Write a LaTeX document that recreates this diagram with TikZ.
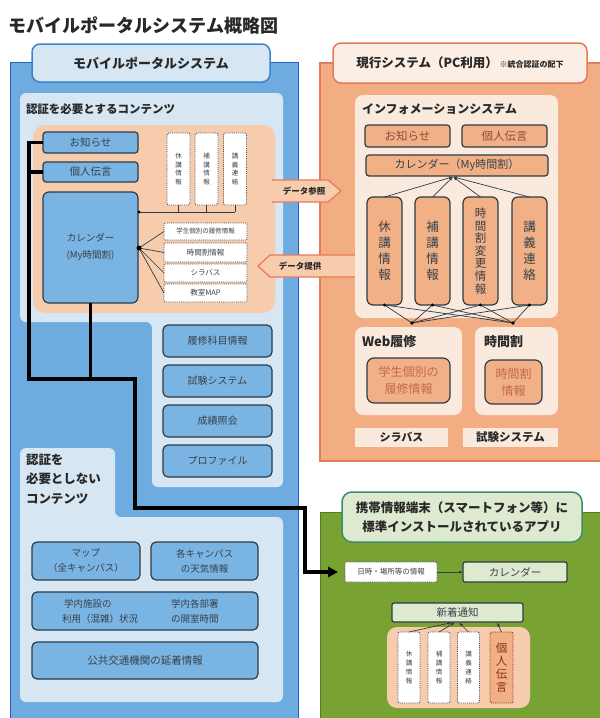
\documentclass[tikz,border=0pt]{standalone}
\usepackage{fontspec}
\setmainfont{Noto Sans CJK JP}
\usetikzlibrary{arrows.meta}
\definecolor{blueMain}{RGB}{110,172,224}
\definecolor{blueBox}{RGB}{122,180,226}
\definecolor{blueLight}{RGB}{214,230,242}
\definecolor{blueEdge}{RGB}{40,90,200}
\definecolor{blueTabEdge}{RGB}{60,130,205}
\definecolor{orMain}{RGB}{242,174,130}
\definecolor{orEdge}{RGB}{232,122,92}
\definecolor{orLight}{RGB}{250,234,222}
\definecolor{orTab}{RGB}{251,238,229}
\definecolor{peach}{RGB}{247,204,172}
\definecolor{orBox}{RGB}{241,176,134}
\definecolor{grMain}{RGB}{120,162,50}
\definecolor{grEdge}{RGB}{80,125,40}
\definecolor{grLight}{RGB}{221,234,207}
\definecolor{grTabEdge}{RGB}{60,140,110}
\definecolor{bline}{RGB}{45,60,70}
\definecolor{dline}{RGB}{70,80,95}
\definecolor{txt}{RGB}{55,65,75}
\definecolor{ttl}{RGB}{40,40,40}
\definecolor{browntxt}{RGB}{140,80,60}
\definecolor{redtxt}{RGB}{195,105,75}
\definecolor{darkred}{RGB}{140,45,30}
\newcommand\fsz[2]{\fontsize{#1}{#2}\selectfont}
\begin{document}
\begin{tikzpicture}[x=1pt,y=-1pt,
  every node/.style={inner sep=0pt, outer sep=0pt, text=txt},
  sz/.style 2 args={minimum width=#1pt, minimum height=#2pt},
  bx/.style={rounded corners=3pt, line width=1.2pt, draw=bline, align=center},
  bluebox/.style={bx, fill=blueBox},
  orbox/.style={bx, fill=orBox},
  grbox/.style={bx, fill=grLight},
  wdash/.style={rounded corners=2pt, draw=dline, line width=0.9pt, densely dotted, fill=white, align=center},
  thickln/.style={line width=3.4pt, black, line join=miter},
  thinln/.style={line width=0.7pt, draw=bline},
  tip/.style={-{Latex[length=4pt,width=3pt]}},
  lightlbl/.style={font=\fsz{11}{13}\bfseries, text=ttl},
]
\useasboundingbox (0,0) rectangle (600,718);
\fill[white] (0,0) rectangle (600,718);

% ---------- title
\node[anchor=west, font=\fsz{18}{20}\bfseries, text=ttl] (title) at (9,25) {モバイルポータルシステム概略図};

% ---------- panels
\draw[fill=blueMain, draw=blueEdge, line width=1pt] (10,62) rectangle (298,730);
\draw[fill=orMain, draw=orEdge, line width=1.5pt] (320,63) rectangle (606,461);
\draw[fill=grMain, draw=grEdge, line width=1pt] (320,512) rectangle (606,730);

% light panels (blue side)
\fill[blueLight, rounded corners=6pt] (20,93) -- (283,93) -- (283,487) -- (152,487) -- (152,322) -- (20,322) -- cycle;
\fill[blueLight, rounded corners=6pt] (20,448) -- (115,448) -- (115,517) -- (283,517) -- (283,702) -- (20,702) -- cycle;
\fill[peach, rounded corners=12pt] (33,125) rectangle (275,313);

% data arrows
\fill[peach] (268,180) -- (328,180) -- (341,191) -- (328,202) -- (268,202) -- cycle;
\draw[orEdge, line width=1.2pt, line join=round] (272,180) -- (328,180) -- (341,191) -- (328,202) -- (272,202);
\node[font=\fsz{8.5}{10}\bfseries, text=ttl] (sansho) at (304,191) {データ参照};
\fill[peach] (358,255) -- (270,255) -- (258,266) -- (270,277) -- (358,277) -- cycle;
\draw[orEdge, line width=1.2pt, line join=round] (358,255) -- (270,255) -- (258,266) -- (270,277) -- (358,277);
\node[font=\fsz{8.5}{10}\bfseries, text=ttl] (teikyo) at (300,266) {データ提供};

% light panels (orange side)
\fill[orLight, rounded corners=8pt] (355,95) rectangle (558,318);
\fill[orLight, rounded corners=8pt] (355,327) rectangle (462,415);
\fill[orLight, rounded corners=8pt] (475,327) rectangle (558,415);

% ---------- tabs
\node[draw=blueTabEdge, line width=1.5pt, fill=blueLight, rounded corners=8pt, sz={238}{38}, font=\fsz{13}{15}\bfseries, text=ttl] (mptab) at (151,63) {モバイルポータルシステム};
\node[draw=orEdge, line width=1.5pt, fill=orTab, rounded corners=8pt, sz={254}{40}, text=ttl] (curtab) at (460,63) {{\fsz{12.5}{14}\bfseries 現行システム（PC利用）}\,{\fsz{8}{9}\bfseries ※統合認証の配下}};
\node[draw=grTabEdge, line width=1.5pt, fill=grLight, rounded corners=10pt, sz={240}{50}, font=\fsz{12.5}{19}\bfseries, text=ttl, align=center] (mobtab) at (462,517) {携帯情報端末（スマートフォン等）に\\標準インストールされているアプリ};

% ---------- blue side labels
\node[anchor=west, font=\fsz{11.5}{13}\bfseries, text=ttl] (reqlbl) at (26,109) {認証を必要とするコンテンツ};
\node[anchor=north west, font=\fsz{12.5}{19.5}\bfseries, text=ttl, align=left] (noreqlbl) at (26,454) {認証を\\必要としない\\コンテンツ};

% left boxes
\node[bluebox, sz={95}{21}, font=\fsz{10.5}{12}] (osh) at (90.5,142.5) {お知らせ};
\node[bluebox, sz={95}{20}, font=\fsz{10.5}{12}] (koj) at (90.5,172) {個人伝言};
\node[bluebox, rounded corners=6pt, sz={95}{111}, font=\fsz{9.5}{17}] (cal) at (90.5,247.5) {カレンダー\\(My時間割)};

\node[wdash, sz={23}{72}, font=\fsz{6.5}{8.5}] (kyu) at (178.5,169) {休\\講\\情\\報};
\node[wdash, sz={23}{72}, font=\fsz{6.5}{8.5}] (hok) at (206.5,169) {補\\講\\情\\報};
\node[wdash, sz={23}{72}, font=\fsz{6.5}{8.5}] (kog) at (235,169) {講\\義\\連\\絡};

\node[wdash, rounded corners=1pt, sz={83}{17}, font=\fsz{6.5}{8}] (l1) at (205.5,231.5) {学生個別の履修情報};
\node[wdash, rounded corners=1pt, sz={83}{19}, font=\fsz{7.5}{9}] (l2) at (205.5,252.5) {時間割情報};
\node[wdash, rounded corners=1pt, sz={83}{18}, font=\fsz{7.5}{9}] (l3) at (205.5,273) {シラバス};
\node[wdash, rounded corners=1pt, sz={83}{18}, font=\fsz{7.5}{9}] (l4) at (205.5,293) {教室MAP};

\coordinate (hl) at (139,212);
\draw[thinln] (hl) -- (kog.south |- hl);
\foreach \b in {kyu,hok,kog} \draw[thinln] (\b.south) -- (\b.south |- hl);
\fill[black] (hl) circle (1.6pt);
\coordinate (fan) at (139,248);
\foreach \b in {l1,l2,l3,l4} \draw[thinln] (fan) -- (\b.west);
\fill[black] (fan) circle (2.5pt);

\node[bluebox, rounded corners=5pt, sz={109}{32}, font=\fsz{10}{12}] (rishu) at (217.5,341) {履修科目情報};
\node[bluebox, rounded corners=5pt, sz={109}{32}, font=\fsz{10}{12}] (shiken) at (217.5,381) {試験システム};
\node[bluebox, rounded corners=5pt, sz={109}{32}, font=\fsz{10}{12}] (seiseki) at (217.5,421) {成績照会};
\node[bluebox, rounded corners=5pt, sz={109}{32}, font=\fsz{10}{12}] (prof) at (217.5,461) {プロファイル};

% lower boxes
\node[bluebox, rounded corners=5pt, sz={108}{38}, font=\fsz{9.5}{15}] (map) at (86,561) {マップ\\（全キャンパス）};
\node[bluebox, rounded corners=5pt, sz={107}{38}, font=\fsz{9.5}{15}] (weather) at (204.5,561) {各キャンパス\\の天気情報};
\node[bluebox, rounded corners=5pt, sz={226}{38}] (facil) at (145,611) {};
\node[font=\fsz{9.5}{15}, align=left, anchor=west] (facilA) at (62,611) {\hspace*{2pt}学内施設の\\利用（混雑）状況};
\node[font=\fsz{9.5}{15}, align=left, anchor=west] (facilB) at (171,611) {学内各部署\\の開室時間};
\node[bluebox, rounded corners=5pt, sz={226}{37}, font=\fsz{10.5}{12}] (transit) at (145,660.5) {公共交通機関の延着情報};

% ---------- orange side
\node[anchor=west, font=\fsz{12}{14}\bfseries, text=ttl] (infolbl) at (362,109) {インフォメーションシステム};
\node[orbox, sz={85}{22}, font=\fsz{11.5}{13}, text=browntxt] (iosh) at (407.5,136) {お知らせ};
\node[orbox, sz={85}{22}, font=\fsz{11.5}{13}, text=browntxt] (ikoj) at (504.5,136) {個人伝言};
\node[orbox, sz={182}{21}, font=\fsz{11}{13}] (ical) at (457,165.5) {カレンダー（My時間割）};

\node[orbox, rounded corners=6pt, sz={35}{108}, font=\fsz{12.5}{16}] (v1) at (384.5,251) {休\\講\\情\\報};
\node[orbox, rounded corners=6pt, sz={35}{108}, font=\fsz{12.5}{16}] (v2) at (432.5,251) {補\\講\\情\\報};
\node[orbox, rounded corners=6pt, sz={35}{108}, font=\fsz{11.5}{12.6}] (v3) at (480.5,251) {時\\間\\割\\変\\更\\情\\報};
\node[orbox, rounded corners=6pt, sz={35}{108}, font=\fsz{12.5}{16}] (v4) at (529.5,251) {講\\義\\連\\絡};

\coordinate (calhub) at (453,176.8);
\foreach \v in {v1,v2,v3,v4} \draw[thinln, tip] (\v.north) -- (calhub);
\coordinate (webhub) at (412,323);
\coordinate (jwhub) at (513,323);
\foreach \v in {v1,v2,v3,v4} {
  \draw[thinln] (\v.south) -- (webhub);
  \draw[thinln] (\v.south) -- (jwhub);
  \fill[black] (\v.south) circle (1.6pt);
}
\fill[black] (webhub) circle (1.8pt);
\fill[black] (jwhub) circle (1.8pt);

\node[anchor=west, font=\fsz{13}{15}\bfseries, text=ttl] (weblbl) at (362,342) {Web履修};
\node[anchor=west, font=\fsz{13}{15}\bfseries, text=ttl] (jwlbl) at (484,342) {時間割};
\node[orbox, rounded corners=7pt, sz={83}{45}, font=\fsz{12}{17}, text=redtxt] (gakusei) at (408.5,380.5) {学生個別の\\履修情報};
\node[orbox, rounded corners=7pt, sz={57}{44}, font=\fsz{12}{17}, text=redtxt] (jwinfo) at (513.5,382) {時間割\\情報};

\node[fill=orLight, sz={93}{19}, font=\fsz{11}{13}\bfseries, text=ttl] (syl) at (401.5,437.5) {シラバス};
\node[fill=orLight, sz={95}{19}, font=\fsz{11.5}{13}\bfseries, text=ttl] (exam) at (510.5,437.5) {試験システム};

% ---------- green side
\node[wdash, rounded corners=1pt, sz={92}{20}, font=\fsz{7.5}{9}] (nichiji) at (391,572) {日時・場所等の情報};
\node[grbox, rounded corners=2pt, sz={104}{20}, font=\fsz{10.5}{12}] (gcal) at (515,572) {カレンダー};
\draw[thinln, tip] (nichiji.east) -- (gcal.west);

\node[grbox, rounded corners=2pt, sz={131}{19}, font=\fsz{10.5}{12}] (shin) at (457.5,612.5) {新着通知};
\fill[peach, rounded corners=10pt] (387,627) rectangle (530,708);
\node[wdash, sz={22}{71}, font=\fsz{6.5}{9}] (w1) at (409,667.5) {休\\講\\情\\報};
\node[wdash, sz={22}{71}, font=\fsz{6.5}{9}] (w2) at (439,667.5) {補\\講\\情\\報};
\node[wdash, sz={22}{71}, font=\fsz{6.5}{9}] (w3) at (468.5,667.5) {講\\義\\連\\絡};
\node[wdash, draw=darkred, fill=orBox, sz={23}{71}, font=\fsz{11.5}{13}, text=darkred] (w4) at (501.5,667.5) {個\\人\\伝\\言};
\coordinate (sh1) at (452,622.5);
\coordinate (sh2) at (455,622.5);
\coordinate (sh3) at (459,622.5);
\coordinate (sh4) at (497,622.5);
\draw[thinln, tip] (w1.north) -- (sh1);
\draw[thinln, tip] (w2.north) -- (sh2);
\draw[thinln, tip] (w3.north) -- (sh3);
\draw[thinln, tip] (w4.north) -- (sh4);

% ---------- thick route
\coordinate (r1) at (29,379);
\coordinate (r2) at (135,379);
\coordinate (r3) at (135,508);
\coordinate (r4) at (305,508);
\draw[thickln, -{Triangle[length=10pt,width=10pt]}, shorten >=7pt] (osh.west) -| (r1) -- (r2) -- (r3) -- (r4) |- (nichiji.west);
\draw[thickln] (koj.west) -- (koj.west -| r1);
\draw[thickln] (cal.south) -- (cal.south |- r1);
\end{tikzpicture}
\end{document}
